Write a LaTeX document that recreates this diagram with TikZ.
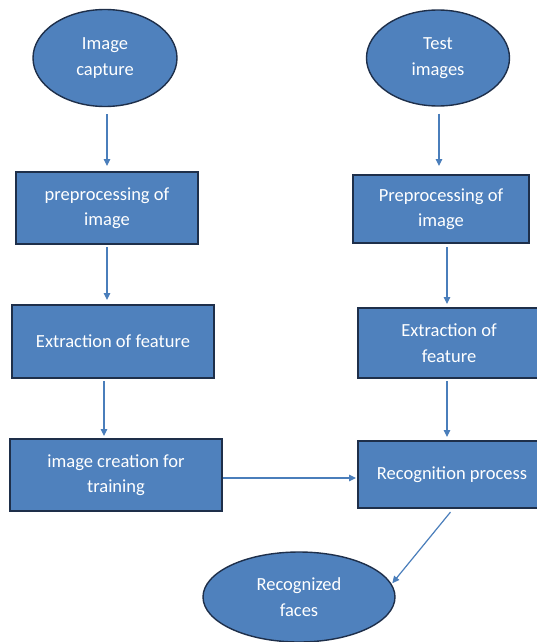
\documentclass[tikz,border=0pt]{standalone}
\usepackage{fontspec}
\setmainfont{Carlito}
\usetikzlibrary{shapes.geometric,arrows.meta}
\definecolor{fillblue}{HTML}{4F81BD}
\definecolor{edgeblue}{HTML}{1E2F4A}
\definecolor{arrowblue}{HTML}{4A7EBB}
\begin{document}
\begin{tikzpicture}[x=1pt,y=-1pt,
  base/.style={fill=fillblue,draw=edgeblue,text=white,align=center,inner sep=0pt,
    font=\fontsize{18.5}{25.5}\selectfont},
  oval/.style={base,ellipse,line width=1.4pt},
  stepbox/.style={base,rectangle,line width=2pt},
  arr/.style={draw=arrowblue,line width=1.2pt,-{Triangle[length=7pt,width=6.5pt]}}]
\clip (0,0) rectangle (537,642);
\fill[white] (0,0) rectangle (537,642);

\node[oval,minimum width=144pt,minimum height=97pt] (e1) at (105,58) {Image\\capture};
\node[oval,minimum width=143pt,minimum height=96pt] (e2) at (438,58) {Test\\images};

\node[stepbox,minimum width=182pt,minimum height=72pt] (b1) at (107,208) {preprocessing of\\image};
\node[stepbox,minimum width=176pt,minimum height=68pt] (b2) at (441,209) {Preprocessing of\\image};

\node[stepbox,minimum width=202pt,minimum height=73pt] (x1) at (113,341.5) {Extraction of feature};
\node[stepbox,minimum width=182pt,minimum height=70pt] (x2) at (449,343) {Extraction of\\feature};

\node[stepbox,minimum width=212pt,minimum height=72pt] (c1) at (116,475) {image creation for\\training};
\node[stepbox,minimum width=188pt,minimum height=67pt] (r) at (452,474.5) {Recognition process};

\node[oval,minimum width=192pt,minimum height=90pt] (e3) at (299,597) {Recognized\\faces};

\draw[arr,shorten <=7pt,shorten >=5pt] ([xshift=2pt]e1.south) -- ([xshift=2pt]e1.south |- b1.north);
\draw[arr,shorten <=2pt,shorten >=4pt] (b1.south) -- (b1.south |- x1.north);
\draw[arr,shorten <=2pt,shorten >=2pt] ([xshift=-9pt]x1.south) -- ([xshift=-9pt]x1.south |- c1.north);

\draw[arr,shorten <=7pt,shorten >=8pt] ([xshift=1pt]e2.south) -- ([xshift=1pt]e2.south |- b2.north);
\draw[arr,shorten <=3pt,shorten >=3pt] ([xshift=6pt]b2.south) -- ([xshift=6pt]b2.south |- x2.north);
\draw[arr,shorten <=2pt,shorten >=3pt] ([xshift=-2pt]x2.south) -- ([xshift=-2pt]x2.south |- r.north);

\draw[arr,shorten >=1pt] ([yshift=-3pt]c1.east) -- ([yshift=-3pt]c1.east -| r.west);
\draw[arr,shorten <=4pt,shorten >=1pt] ([xshift=1pt]r.south) -- (e3.8);
\end{tikzpicture}
\end{document}
